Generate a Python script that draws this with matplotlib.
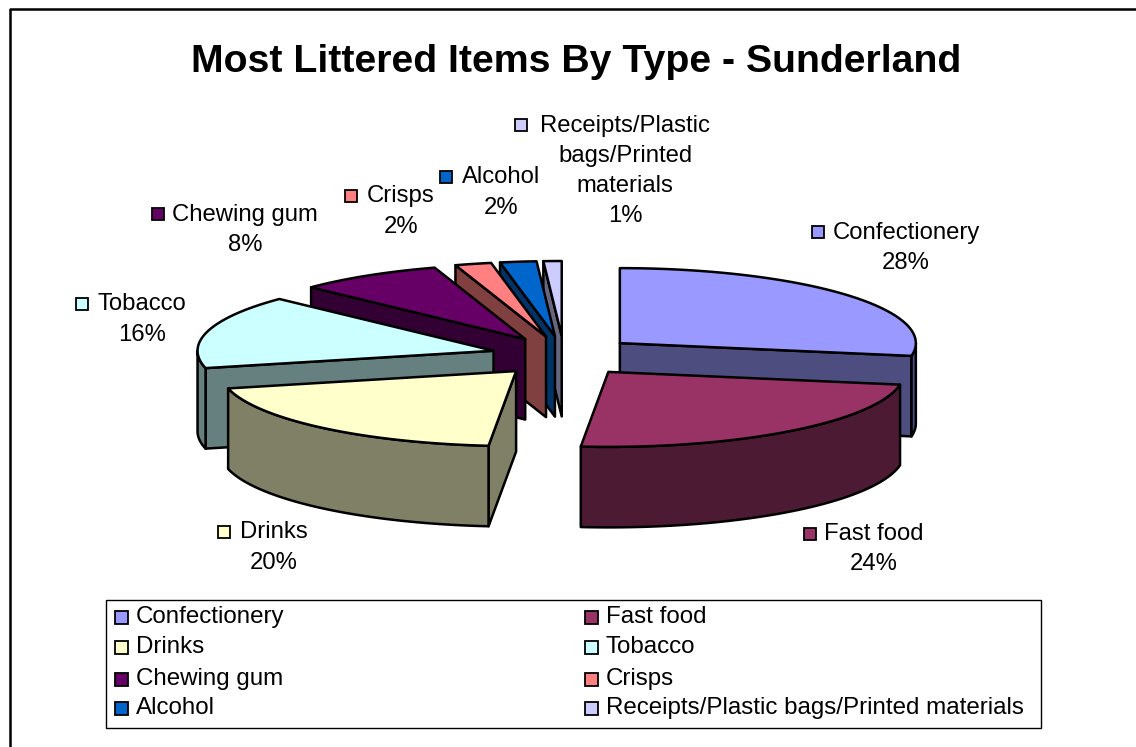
import numpy as np
import matplotlib
matplotlib.use("Agg")
import matplotlib.pyplot as plt
from matplotlib.patches import Polygon, Rectangle

categories = ["Confectionery", "Fast food", "Drinks", "Tobacco", "Chewing gum",
              "Crisps", "Alcohol", "Receipts/Plastic bags/Printed materials"]
values = [28, 24, 20, 16, 8, 2, 2, 1]
pie_labels = ["Confectionery", "Fast food", "Drinks", "Tobacco", "Chewing gum",
              "Crisps", "Alcohol", "Receipts/Plastic\nbags/Printed\nmaterials"]
colors = ["#9999FF", "#993366", "#FFFFCC", "#CCFFFF", "#660066", "#FF8080", "#0066CC", "#CCCCFF"]

W, H = 1136, 747
plt.rcParams['font.family'] = ['Liberation Sans', 'DejaVu Sans']
fig = plt.figure(figsize=(W / 100, H / 100), dpi=100)
ax = fig.add_axes([0, 0, 1, 1])
ax.set_xlim(0, W)
ax.set_ylim(H, 0)
ax.axis("off")

# chart frame
ax.plot([9.5, 9.5, W], [H, 9, 9], color="black", lw=1.8, solid_capstyle="butt")

ax.text(576, 62, "Most Littered Items By Type - Sunderland", ha="center", va="center",
        fontsize=28.3, fontweight="bold")

# pie geometry
CX, CY, RX, RY, DEPTH = 564, 356, 296, 75, 80.5
EX, EY = 73, 20
LW = 1.8


def darker(c, f=0.5):
    r, g, b = matplotlib.colors.to_rgb(c)
    return (r * f, g * f, b * f)


def rim(ax0, ax1, th0, th1):
    t = np.radians(np.linspace(th0, th1, max(2, int(abs(th1 - th0) * 2))))
    return np.column_stack([ax0 + RX * np.sin(t), ax1 - RY * np.cos(t)])


total = sum(values)
angles = np.cumsum([0] + values) / total * 360
wedges = []
for i in range(len(values)):
    a0, a1 = angles[i], angles[i + 1]
    wedges.append((abs((a0 + a1) / 2 - 180), i, a0, a1))

for _, i, a0, a1 in sorted(wedges, reverse=True):
    mid = np.radians((a0 + a1) / 2)
    ox = CX + EX * np.sin(mid)
    oy = CY - EY * np.cos(mid)
    col = colors[i]
    dk = darker(col)
    down = np.array([0, DEPTH])
    apex = np.array([ox, oy])
    kw = dict(closed=True, ec="black", lw=LW, joinstyle="round")
    # radial cut faces
    if a0 > 180:
        p = rim(ox, oy, a0, a0)[0]
        ax.add_patch(Polygon([apex, p, p + down, apex + down], fc=dk, **kw))
    if a1 < 180:
        p = rim(ox, oy, a1, a1)[0]
        ax.add_patch(Polygon([apex, p, p + down, apex + down], fc=dk, **kw))
    # outer wall
    lo, hi = max(a0, 90), min(a1, 270)
    if hi > lo:
        arc = rim(ox, oy, lo, hi)
        ax.add_patch(Polygon(np.vstack([arc, arc[::-1] + down]), fc=dk, **kw))
    # top face
    ax.add_patch(Polygon(np.vstack([apex, rim(ox, oy, a0, a1)]), fc=col, **kw))

# data labels: text block centre, swatch left edge and swatch centre height, in pixels
label_pos = [(906, 248), (874, 549), (274, 547.5), (142, 319.5), (245, 230),
             (401, 211.5), (501, 192.5), (625, 171)]
swatch_x = [812, 804, 218, 76, 152, 345, 440, 515]
swatch_y = [232, 534, 532, 304, 214, 196, 177, 125]
for i, (x, y) in enumerate(label_pos):
    pct = f"{round(values[i] / total * 100)}%"
    ax.text(x, y, pie_labels[i] + "\n" + pct, ha="center", va="center",
            fontsize=17.2, linespacing=1.48)
    ax.add_patch(Rectangle((swatch_x[i], swatch_y[i] - 6), 12, 12,
                           fc=colors[i], ec="black", lw=1.3))

# legend
ax.add_patch(Rectangle((106, 600), 935, 128, fc="white", ec="black", lw=1))
legend_rows = [617, 647, 679, 708]
for i, name in enumerate(categories):
    col_i, row = i % 2, i // 2
    x = 115 + col_i * 470
    y = legend_rows[row]
    ax.add_patch(Rectangle((x, y - 6), 13, 13, fc=colors[i], ec="black", lw=1.3))
    ax.text(x + 21, y, name, ha="left", va="center", fontsize=17.4)

fig.savefig("out.png", dpi=100, facecolor="white")
